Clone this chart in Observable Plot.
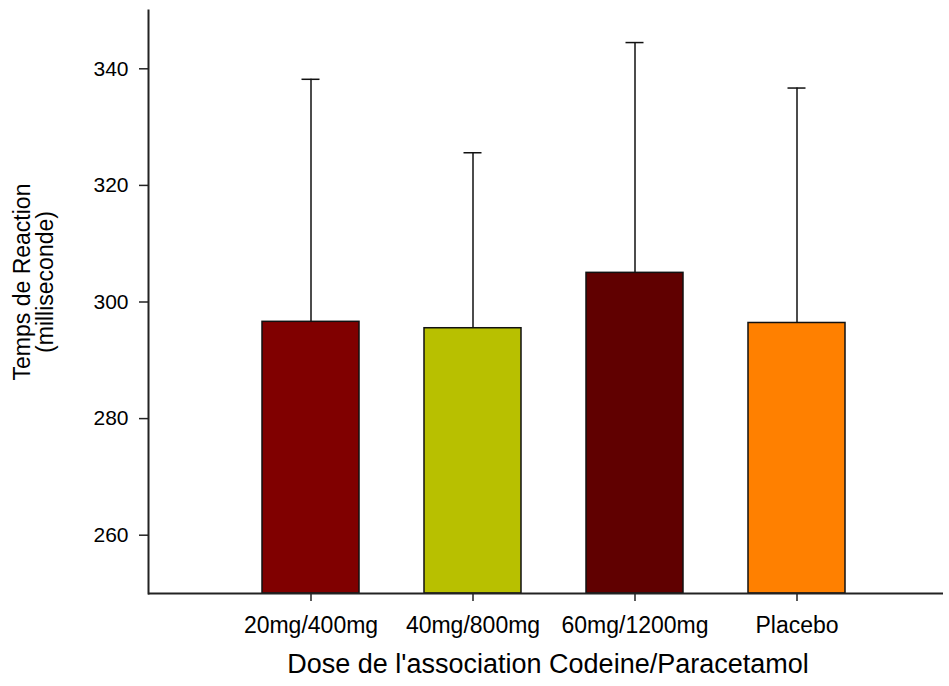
<!DOCTYPE html>
<html>
<head>
<meta charset="utf-8">
<script src="https://cdn.jsdelivr.net/npm/d3@7"></script>
<script src="https://cdn.jsdelivr.net/npm/@observablehq/plot@0.6"></script>
<style>
  html, body { margin: 0; padding: 0; background: #fff; }
</style>
</head>
<body>
<div id="chart"></div>
<script>
const categories = ["20mg/400mg", "40mg/800mg", "60mg/1200mg", "Placebo"];
const means = [296.6, 295.5, 305.0, 296.4];
const upperErrors = [338.2, 325.6, 344.5, 336.7];
const barColors = ["#800000", "#b8c000", "#600000", "#ff8000"];
const yTicks = [260, 280, 300, 320, 340];
const yTitle = ["Temps de Reaction\n(milliseconde)"];
const xTitle = ["Dose de l'association Codeine/Paracetamol"];

const data = categories.map((c, i) => ({
  cat: c, mean: means[i], upper: upperErrors[i], color: barColors[i]
}));

const chart = Plot.plot({
  width: 949,
  height: 686,
  marginLeft: 148,
  marginRight: 6,
  marginTop: 10,
  marginBottom: 93,
  style: {fontFamily: "'Liberation Sans', Arial, sans-serif", fontSize: "21px", background: "#fff", color: "#000"},
  x: {type: "band", domain: categories, range: [229, 878], paddingInner: 0.4, paddingOuter: 0.2},
  y: {domain: [250, 350]},
  color: {type: "identity"},
  marks: [
    Plot.barY(data, {x: "cat", y1: 250, y2: "mean", fill: "color", stroke: "#111", strokeWidth: 1.5}),
    Plot.ruleX(data, {x: "cat", y1: "mean", y2: "upper", stroke: "#111", strokeWidth: 1.5}),
    Plot.tickY(data, {x: "cat", y: "upper", insetLeft: 39.5, insetRight: 39.5, stroke: "#111", strokeWidth: 1.5}),
    Plot.ruleY([250], {stroke: "#222", strokeWidth: 2}),
    Plot.frame({anchor: "left", stroke: "#222", strokeWidth: 2}),
    Plot.axisY({ticks: yTicks, tickSize: 9, tickPadding: 11, fontSize: 21, label: null, stroke: "#222", strokeWidth: 1.5}),
    Plot.axisX({tickSize: 8, tickPadding: 15, fontSize: 23, label: null, stroke: "#222", strokeWidth: 1.5}),
    Plot.text(yTitle, {frameAnchor: "left", dx: -114, dy: -20, rotate: -90, fontSize: 23, lineHeight: 0.98, text: d => d, textAnchor: "middle", fill: "#000"}),
    Plot.text(xTitle, {frameAnchor: "bottom", dy: 79, dx: 2, fontSize: 27, text: d => d, fill: "#000"})
  ]
});
document.getElementById("chart").appendChild(chart);
</script>
</body>
</html>
